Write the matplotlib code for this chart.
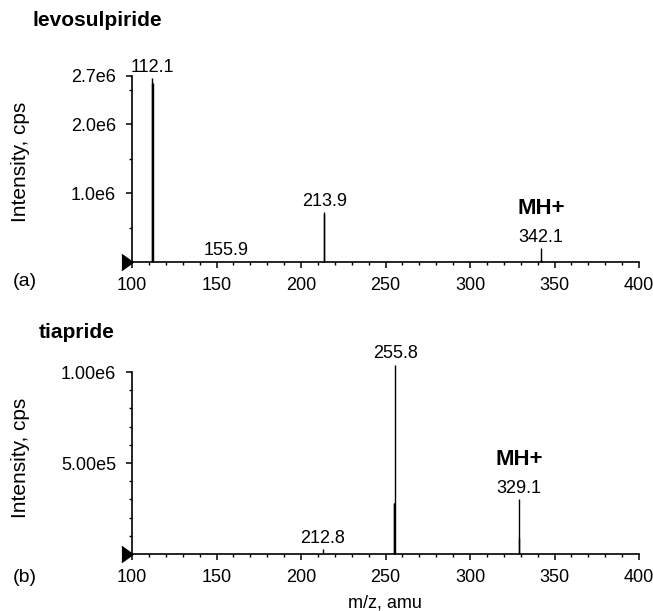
"""MS/MS product-ion spectra: levosulpiride (a) and tiapride (b)."""

import matplotlib

matplotlib.use("Agg")
import matplotlib.pyplot as plt
import matplotlib.transforms as mtransforms
from matplotlib.ticker import FixedLocator, MultipleLocator

plt.rcParams["font.family"] = ["Liberation Sans", "DejaVu Sans"]

# ---- data ----
levo_mz = [111.7, 112.1, 112.5, 155.9, 213.5, 213.9, 341.8, 342.1]
levo_int = [2.60e6, 2.67e6, 2.60e6, 0.005e6, 0.70e6, 0.72e6, 0.04e6, 0.20e6]
levo_label_mz = [112.1, 155.9, 213.9, 342.1]
levo_label_int = [2.67e6, 0.005e6, 0.72e6, 0.20e6]
levo_yticks = [1.0e6, 2.0e6, 2.7e6]
levo_yticklabels = ["1.0e6", "2.0e6", "2.7e6"]
levo_yminor = [0.5e6, 1.5e6, 2.5e6]

tia_mz = [212.8, 254.9, 255.3, 255.8, 328.7, 329.1]
tia_int = [0.025e6, 0.28e6, 0.28e6, 1.04e6, 0.09e6, 0.30e6]
tia_label_mz = [212.8, 255.8, 329.1]
tia_label_int = [0.025e6, 1.04e6, 0.30e6]
tia_yticks = [5.0e5, 1.0e6]
tia_yticklabels = ["5.00e5", "1.00e6"]
tia_yminor = [1e5, 2e5, 3e5, 4e5, 6e5, 7e5, 8e5, 9e5]

mh_mz = [342.1, 329.1]
mh_int = [0.20e6, 0.30e6]

W, H = 653, 611
fig = plt.figure(figsize=(W / 100, H / 100), dpi=100)
left, width = 132 / W, 507 / W
ax1 = fig.add_axes([left, 1 - 262 / H, width, (262 - 76) / H])
ax2 = fig.add_axes([left, 1 - 554 / H, width, (554 - 372) / H])


def style_axis(ax, ymax, yticks, ylabels, yminor):
    ax.set_xlim(100, 400)
    ax.set_ylim(0, ymax)
    for s in ("top", "right"):
        ax.spines[s].set_visible(False)
    for s in ("left", "bottom"):
        ax.spines[s].set_linewidth(1.2)
    ax.xaxis.set_major_locator(MultipleLocator(50))
    ax.xaxis.set_minor_locator(MultipleLocator(10))
    ax.yaxis.set_major_locator(FixedLocator(yticks))
    ax.set_yticklabels(ylabels)
    ax.yaxis.set_minor_locator(FixedLocator(yminor))
    ax.tick_params(which="major", length=4.5, width=1.1, labelsize=13, pad=6)
    ax.tick_params(which="minor", length=2.5, width=1.0)
    ax.tick_params(axis="y", which="major", pad=7)
    # run-start marker at the origin
    tr = mtransforms.offset_copy(ax.transData, fig=fig, x=-5, y=0, units="dots")
    ax.plot([100], [0], marker=[(-0.35, -0.5), (0.35, 0), (-0.35, 0.5)],
            markersize=11.5, color="black", transform=tr, clip_on=False)


def peaks(ax, mz, inten, lab_mz, lab_int):
    ax.vlines(mz, 0, inten, colors="black", linewidth=1.0, clip_on=False)
    for x, y in zip(lab_mz, lab_int):
        ax.annotate(f"{x:.1f}", (x, y), xytext=(0, 4.7), textcoords="offset points",
                    ha="center", va="baseline", fontsize=13,
                    annotation_clip=False)


style_axis(ax1, 2.7e6, levo_yticks, levo_yticklabels, levo_yminor)
style_axis(ax2, 1.0e6, tia_yticks, tia_yticklabels, tia_yminor)
peaks(ax1, levo_mz, levo_int, levo_label_mz, levo_label_int)
peaks(ax2, tia_mz, tia_int, tia_label_mz, tia_label_int)

for ax, x, y in zip((ax1, ax2), mh_mz, mh_int):
    ax.annotate("MH+", (x, y), xytext=(0, 25), textcoords="offset points",
                ha="center", va="baseline", fontsize=16, fontweight="bold",
                annotation_clip=False)

fig.text(32 / W, 1 - 20 / H, "levosulpiride", fontsize=15, fontweight="bold",
         ha="left", va="center")
fig.text(39 / W, 1 - 332 / H, "tiapride", fontsize=15, fontweight="bold",
         ha="left", va="center")
fig.text(13 / W, 1 - 282 / H, "(a)", fontsize=14, ha="left", va="center")
fig.text(13 / W, 1 - 578 / H, "(b)", fontsize=14, ha="left", va="center")
for yc in (162, 458):
    fig.text(21 / W, 1 - yc / H, "Intensity, cps", fontsize=15, rotation=90,
             ha="center", va="center")
fig.text(385 / W, 1 - 603 / H, "m/z, amu", fontsize=13, ha="center", va="center")

fig.savefig("out.png", dpi=100)
